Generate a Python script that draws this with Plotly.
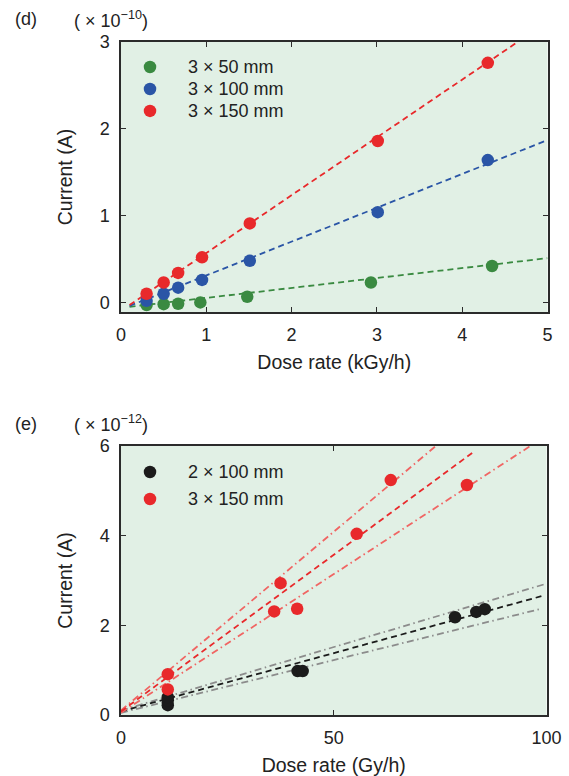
import plotly.graph_objects as go

W, H = 569, 776

# ---------------- Panel (d) data ----------------
d_x = [0.30, 0.50, 0.67, 0.95, 1.51, 3.01, 4.30]
d_red_y = [0.10, 0.23, 0.34, 0.52, 0.91, 1.86, 2.76]
d_blue_y = [0.02, 0.10, 0.17, 0.26, 0.48, 1.04, 1.64]
d_green_x = [0.30, 0.50, 0.67, 0.93, 1.48, 2.93, 4.35]
d_green_y = [-0.03, -0.02, -0.015, 0.0, 0.066, 0.23, 0.42]

# fitted lines (end points)
d_red_fit_x = [0.10, 4.65]
d_red_fit_y = [-0.03, 3.00]
d_blue_fit_x = [0.10, 5.0]
d_blue_fit_y = [-0.04, 1.87]
d_green_fit_x = [0.10, 5.0]
d_green_fit_y = [-0.05, 0.51]

d_names = ["3 × 50 mm", "3 × 100 mm", "3 × 150 mm"]

# ---------------- Panel (e) data ----------------
e_black_x = [11.0, 11.0, 11.0, 41.5, 42.7, 78.5, 83.5, 85.5]
e_black_y = [0.22, 0.33, 0.40, 0.98, 0.98, 2.18, 2.30, 2.36]
e_red_x = [11.0, 11.0, 36.0, 37.5, 41.4, 55.4, 63.4, 81.3]
e_red_y = [0.57, 0.91, 2.31, 2.94, 2.37, 4.04, 5.24, 5.13]

e_red_fit_x = [0.0, 82.6]
e_red_fit_y = [0.08, 5.85]
e_red_up_x = [0.0, 74.0]
e_red_up_y = [0.10, 6.00]
e_red_lo_x = [0.0, 96.2]
e_red_lo_y = [0.05, 6.00]
e_black_fit_x = [0.0, 98.8]
e_black_fit_y = [0.08, 2.65]
e_gray_up_x = [0.0, 100.0]
e_gray_up_y = [0.10, 2.93]
e_gray_lo_x = [0.0, 98.8]
e_gray_lo_y = [0.05, 2.37]

e_names = ["2 × 100 mm", "3 × 150 mm"]

# ---------------- styles ----------------
GREEN = "#3a8a41"
BLUE = "#2a55a6"
RED = "#e8292b"
RED_LIGHT = "#f06563"
BLACK = "#1b1b1b"
GRAY = "#8c8c8c"
BG = "#e1f0e5"
FONT = "Liberation Sans, Arial, sans-serif"
DASH = "6px,4px"
DASHDOT = "7px,3.5px,1.5px,3.5px"
MS = 12.5

fig = go.Figure()

def line(x, y, color, dash, xa, ya, width=1.8):
    fig.add_trace(go.Scatter(x=x, y=y, mode="lines", xaxis=xa, yaxis=ya,
                             line=dict(color=color, dash=dash, width=width),
                             showlegend=False, hoverinfo="skip"))

def pts(x, y, color, name, xa, ya, leg):
    fig.add_trace(go.Scatter(x=x, y=y, mode="markers", xaxis=xa, yaxis=ya,
                             marker=dict(color=color, size=MS, line=dict(width=0)),
                             name='<span style="font-size:18px">%s</span>' % name,
                             legend=leg, legendgroup=name))

# panel d
line(d_green_fit_x, d_green_fit_y, GREEN, DASH, "x", "y")
line(d_blue_fit_x, d_blue_fit_y, BLUE, DASH, "x", "y")
line(d_red_fit_x, d_red_fit_y, RED, DASH, "x", "y")
pts(d_green_x, d_green_y, GREEN, d_names[0], "x", "y", "legend")
pts(d_x, d_blue_y, BLUE, d_names[1], "x", "y", "legend")
pts(d_x, d_red_y, RED, d_names[2], "x", "y", "legend")

# panel e
line(e_gray_up_x, e_gray_up_y, GRAY, DASHDOT, "x2", "y2")
line(e_gray_lo_x, e_gray_lo_y, GRAY, DASHDOT, "x2", "y2")
line(e_black_fit_x, e_black_fit_y, BLACK, DASH, "x2", "y2")
line(e_red_up_x, e_red_up_y, RED_LIGHT, DASHDOT, "x2", "y2")
line(e_red_lo_x, e_red_lo_y, RED_LIGHT, DASHDOT, "x2", "y2")
line(e_red_fit_x, e_red_fit_y, RED, DASH, "x2", "y2")
pts(e_black_x, e_black_y, BLACK, e_names[0], "x2", "y2", "legend2")
pts(e_red_x, e_red_y, RED, e_names[1], "x2", "y2", "legend2")

def px_x(p):
    return p / W

def px_y(p):
    return 1 - p / H

axis_common = dict(showgrid=False, zeroline=False, showline=True, mirror="ticks",
                   linecolor="#2b2b2b", linewidth=1.5, ticks="inside", ticklen=5,
                   tickwidth=1.3, tickcolor="#2b2b2b", automargin=False,
                   tickfont=dict(family=FONT, size=18, color="#222"),
                   ticklabelstandoff=6)

title_font = dict(family=FONT, size=19.5, color="#222")
legend_font = dict(family=FONT, size=14.6, color="#222")

fig.update_layout(
    width=W, height=H, autosize=False,
    margin=dict(l=0, r=0, t=0, b=0, pad=0, autoexpand=False),
    paper_bgcolor="white",
    plot_bgcolor=BG,
    font=dict(family=FONT, color="#222"),
    xaxis=dict(domain=[px_x(121), px_x(547.5)], anchor="y", range=[0, 5],
               tickvals=[0, 1, 2, 3, 4, 5],
               title=dict(text="Dose rate (kGy/h)", font=title_font, standoff=11),
               **axis_common),
    yaxis=dict(domain=[px_y(312), px_y(42)], anchor="x", range=[-0.11, 3.0],
               tickvals=[0, 1, 2, 3],
               title=dict(text="Current (A)", font=title_font, standoff=22),
               **axis_common),
    xaxis2=dict(domain=[px_x(121), px_x(546.5)], anchor="y2", range=[0, 100],
                tickvals=[0, 50, 100],
                title=dict(text="Dose rate (Gy/h)", font=title_font, standoff=11),
                **axis_common),
    yaxis2=dict(domain=[px_y(715), px_y(446)], anchor="x2", range=[0, 6],
                tickvals=[0, 2, 4, 6],
                title=dict(text="Current (A)", font=title_font, standoff=22),
                **axis_common),
    legend=dict(x=px_x(112), y=px_y(51), xanchor="left", yanchor="top",
                bgcolor="rgba(0,0,0,0)", itemwidth=66, tracegroupgap=0,
                font=legend_font),
    legend2=dict(x=px_x(112), y=px_y(456), xanchor="left", yanchor="top",
                 bgcolor="rgba(0,0,0,0)", itemwidth=66, tracegroupgap=5,
                 font=legend_font),
    showlegend=True,
)

ann_font = dict(family=FONT, size=18, color="#222")
annotations = [
    dict(text="(d)", x=px_x(13), y=px_y(19), xanchor="left", yanchor="middle"),
    dict(text="( × 10<sup>−10</sup>)", x=px_x(72), y=px_y(19), xanchor="left", yanchor="middle"),
    dict(text="(e)", x=px_x(13), y=px_y(424), xanchor="left", yanchor="middle"),
    dict(text="( × 10<sup>−12</sup>)", x=px_x(72), y=px_y(424), xanchor="left", yanchor="middle"),
]
for a in annotations:
    fig.add_annotation(xref="paper", yref="paper", showarrow=False, font=ann_font, **a)

fig.write_html(
    "out.html",
    config={"displayModeBar": False, "responsive": False},
    post_script=("document.body.style.margin='0';"
                 "document.body.style.padding='0';"
                 "document.documentElement.style.overflow='hidden';"),
)
